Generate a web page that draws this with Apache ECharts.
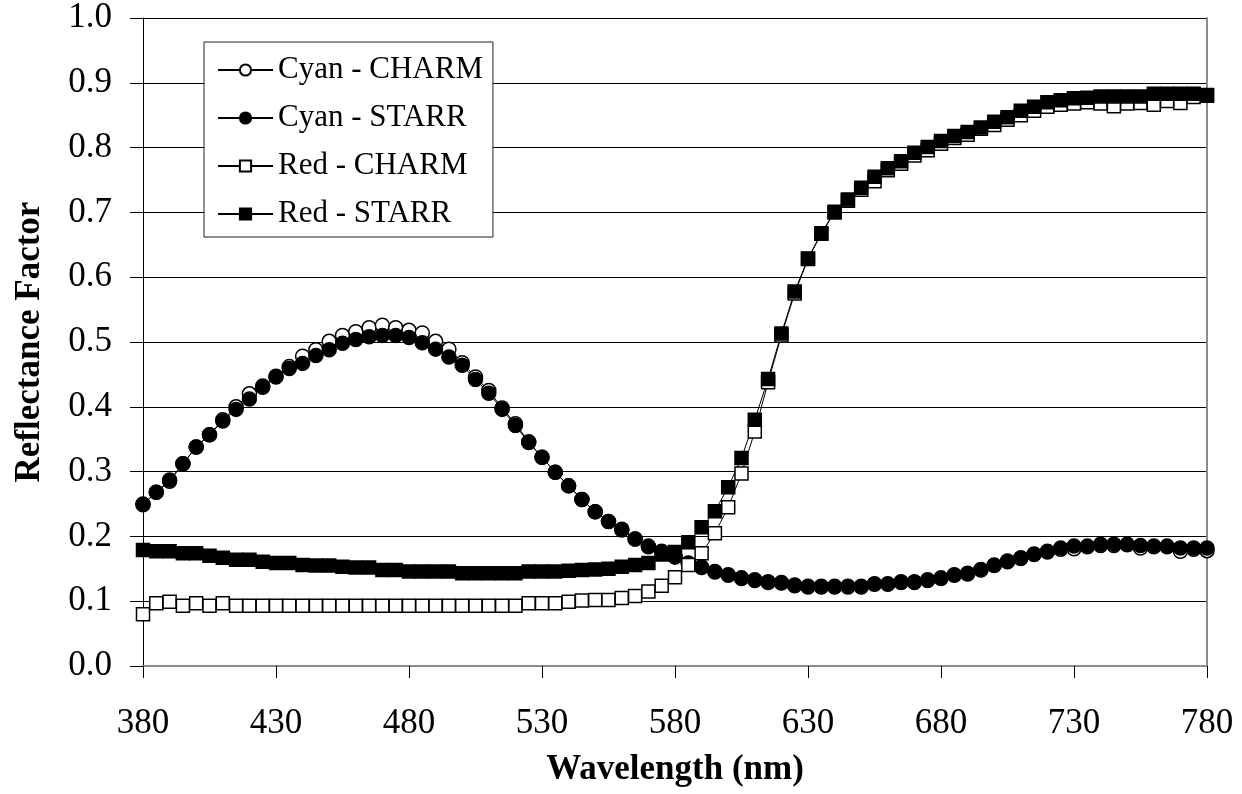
<!DOCTYPE html>
<html>
<head>
<meta charset="utf-8">
<script src="https://cdn.jsdelivr.net/npm/echarts@6/dist/echarts.min.js"></script>
<style>
  html, body { margin: 0; padding: 0; background: #fff; }
  #chart { width: 1242px; height: 794px; }
</style>
</head>
<body>
<div id="chart"></div>
<script>
// wavelength, nm (380..780, step 5)
const wavelengths = []
for (let w = 380; w <= 780; w += 5) wavelengths.push(w)

const cyanCharm = [
  0.250, 0.268, 0.285, 0.312, 0.338, 0.357, 0.380, 0.400, 0.420, 0.432,
  0.447, 0.462, 0.478, 0.488, 0.501, 0.510, 0.516, 0.522, 0.526, 0.522,
  0.518, 0.514, 0.501, 0.489, 0.468, 0.446, 0.425, 0.398, 0.374, 0.346,
  0.322, 0.299, 0.278, 0.257, 0.238, 0.223, 0.210, 0.196, 0.184, 0.176,
  0.168, 0.158, 0.152, 0.145, 0.140, 0.135, 0.132, 0.129, 0.128, 0.124,
  0.122, 0.122, 0.122, 0.122, 0.122, 0.126, 0.126, 0.129, 0.129, 0.132,
  0.135, 0.140, 0.142, 0.148, 0.155, 0.161, 0.166, 0.172, 0.176, 0.180,
  0.181, 0.184, 0.186, 0.186, 0.187, 0.182, 0.184, 0.184, 0.177, 0.180,
  0.178
]
const cyanStarr = [
  0.249, 0.268, 0.287, 0.312, 0.338, 0.357, 0.378, 0.396, 0.412, 0.430,
  0.446, 0.459, 0.467, 0.479, 0.488, 0.498, 0.504, 0.508, 0.510, 0.510,
  0.507, 0.499, 0.489, 0.477, 0.464, 0.442, 0.421, 0.396, 0.371, 0.345,
  0.322, 0.299, 0.278, 0.257, 0.238, 0.223, 0.211, 0.196, 0.185, 0.177,
  0.169, 0.159, 0.153, 0.146, 0.141, 0.136, 0.133, 0.130, 0.129, 0.125,
  0.123, 0.123, 0.123, 0.123, 0.123, 0.127, 0.127, 0.130, 0.130, 0.133,
  0.136, 0.141, 0.143, 0.149, 0.156, 0.162, 0.167, 0.173, 0.177, 0.182,
  0.185, 0.185, 0.188, 0.188, 0.188, 0.186, 0.185, 0.185, 0.182, 0.182,
  0.182
]
const redCharm = [
  0.080, 0.097, 0.099, 0.093, 0.097, 0.093, 0.097, 0.093, 0.093, 0.093,
  0.093, 0.093, 0.093, 0.093, 0.093, 0.093, 0.093, 0.093, 0.093, 0.093,
  0.093, 0.093, 0.093, 0.093, 0.093, 0.093, 0.093, 0.093, 0.093, 0.097,
  0.097, 0.097, 0.099, 0.101, 0.102, 0.102, 0.105, 0.108, 0.115, 0.124,
  0.137, 0.156, 0.174, 0.205, 0.245, 0.297, 0.362, 0.438, 0.510, 0.575,
  0.628, 0.667, 0.700, 0.718, 0.735, 0.748, 0.765, 0.775, 0.788, 0.796,
  0.806, 0.815, 0.820, 0.829, 0.835, 0.843, 0.850, 0.857, 0.863, 0.866,
  0.868, 0.870, 0.868, 0.864, 0.868, 0.869, 0.866, 0.872, 0.869, 0.878,
  0.880
]
const redStarr = [
  0.179, 0.177, 0.177, 0.174, 0.174, 0.170, 0.167, 0.164, 0.164, 0.161,
  0.159, 0.159, 0.156, 0.155, 0.155, 0.153, 0.152, 0.152, 0.148, 0.148,
  0.146, 0.146, 0.146, 0.146, 0.143, 0.143, 0.143, 0.143, 0.143, 0.146,
  0.146, 0.146, 0.147, 0.148, 0.149, 0.150, 0.153, 0.156, 0.159, 0.172,
  0.176, 0.191, 0.214, 0.239, 0.276, 0.321, 0.380, 0.443, 0.513, 0.578,
  0.629, 0.668, 0.701, 0.720, 0.738, 0.755, 0.768, 0.779, 0.792, 0.801,
  0.810, 0.818, 0.824, 0.831, 0.840, 0.847, 0.857, 0.863, 0.870, 0.873,
  0.876, 0.877, 0.879, 0.879, 0.879, 0.879, 0.883, 0.883, 0.883, 0.883,
  0.881
]

const font = '"Liberation Serif", "Times New Roman", serif'
const chart = echarts.init(document.getElementById('chart'))

function pairs(values) {
  return wavelengths.map((w, i) => [w, values[i]])
}

function makeSeries(name, values, symbol, filled, size) {
  return {
    name: name,
    type: 'line',
    data: pairs(values),
    symbol: symbol,
    symbolSize: size,
    showAllSymbol: true,
    animation: false,
    lineStyle: { color: '#000', width: 1 },
    itemStyle: {
      color: filled ? '#000' : '#fff',
      borderColor: '#000',
      borderWidth: 1.5
    }
  }
}

// plot frame (top and right edges) drawn as plain gray axis lines
const frameAxis = {
  type: 'value',
  min: 0,
  max: 1,
  axisLine: { show: true, lineStyle: { color: '#8c8c8c', width: 2 } },
  axisTick: { show: false },
  axisLabel: { show: false },
  splitLine: { show: false }
}

chart.setOption({
  backgroundColor: '#fff',
  grid: { left: 143, right: 35, top: 18, bottom: 128 },
  legend: {
    orient: 'vertical',
    left: 204,
    top: 42,
    padding: [12, 10, 7, 13],
    itemGap: 16,
    itemWidth: 55,
    itemHeight: 14,
    borderColor: '#222',
    borderWidth: 1,
    backgroundColor: '#fff',
    textStyle: { fontFamily: font, fontSize: 31, lineHeight: 32, color: '#000' },
    data: ['Cyan - CHARM', 'Cyan - STARR', 'Red - CHARM', 'Red - STARR']
  },
  xAxis: [{
    type: 'value',
    min: 380,
    max: 780,
    interval: 50,
    name: 'Wavelength (nm)',
    nameLocation: 'middle',
    nameGap: 86,
    nameTextStyle: { fontFamily: font, fontSize: 35, fontWeight: 'bold', color: '#000' },
    axisLine: { lineStyle: { color: '#000', width: 1 } },
    axisTick: { inside: false, length: 12, lineStyle: { color: '#000' } },
    axisLabel: { fontFamily: font, fontSize: 35, color: '#000', margin: 40 },
    splitLine: { show: false }
  }, Object.assign({}, frameAxis, { position: 'top', min: 380, max: 780 })],
  yAxis: [{
    type: 'value',
    min: 0,
    max: 1,
    interval: 0.1,
    name: 'Reflectance Factor',
    nameLocation: 'middle',
    nameGap: 96,
    nameTextStyle: { fontFamily: font, fontSize: 35, fontWeight: 'bold', color: '#000' },
    axisLine: { show: true, lineStyle: { color: '#000', width: 1 } },
    axisTick: { show: true, length: 13, lineStyle: { color: '#000' } },
    axisLabel: {
      fontFamily: font, fontSize: 35, color: '#000', margin: 31,
      formatter: v => v.toFixed(1)
    },
    splitLine: { show: true, lineStyle: { color: '#000', width: 1 } }
  }, Object.assign({}, frameAxis, { position: 'right' })],
  series: [
    makeSeries('Cyan - CHARM', cyanCharm, 'circle', false, 14),
    makeSeries('Cyan - STARR', cyanStarr, 'circle', true, 14),
    makeSeries('Red - CHARM', redCharm, 'rect', false, 13),
    makeSeries('Red - STARR', redStarr, 'rect', true, 13)
  ]
})
</script>
</body>
</html>
